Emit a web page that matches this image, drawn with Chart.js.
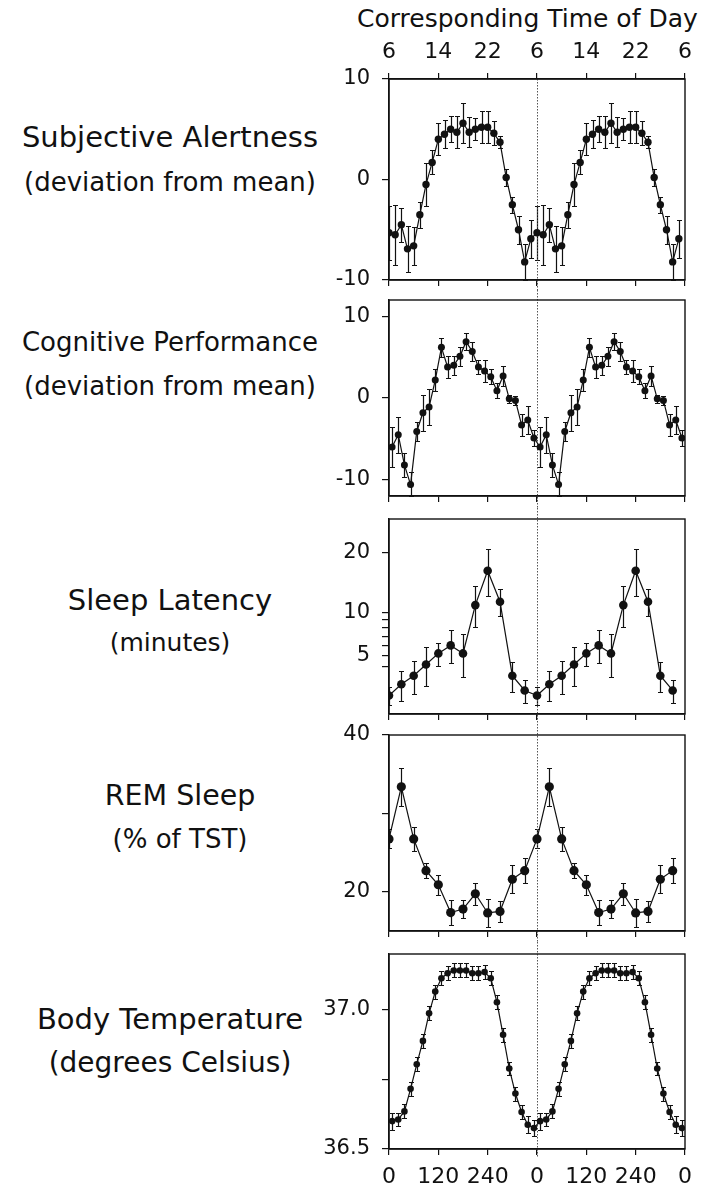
<!DOCTYPE html>
<html lang="en">
<head>
<meta charset="UTF-8">
<title>Circadian variation across the day</title>
<script src="https://cdn.jsdelivr.net/npm/chart.js"></script>
<style>
  body { margin: 0; background: #fff; }
  #page { position: relative; width: 709px; height: 1190px; overflow: hidden;
          font-family: "DejaVu Sans", sans-serif; color: #111; }
  #page canvas { position: absolute; left: 0; }
  .side { position: absolute; left: 0; width: 340px; text-align: center;
          line-height: 40px; white-space: nowrap; }
  #topTitle { position: absolute; left: 357px; top: 4px; font-size: 25px; line-height: 30px;
              white-space: nowrap; }
</style>
</head>
<body>
<div id="page">
  <div id="topTitle">Corresponding Time of Day</div>
  <div class="side" style="top:117px; font-size:29px">Subjective Alertness</div>
  <div class="side" style="top:162px; font-size:26px">(deviation from mean)</div>
  <div class="side" style="top:322px; font-size:26px">Cognitive Performance</div>
  <div class="side" style="top:366px; font-size:26px">(deviation from mean)</div>
  <div class="side" style="top:580px; font-size:29px">Sleep Latency</div>
  <div class="side" style="top:623px; font-size:25px">(minutes)</div>
  <div class="side" style="top:776px; left:10px; font-size:28.5px">REM Sleep</div>
  <div class="side" style="top:819px; left:10px; font-size:26px">(% of TST)</div>
  <div class="side" style="top:999px; font-size:29px">Body Temperature</div>
  <div class="side" style="top:1043px; font-size:28px">(degrees Celsius)</div>
  <canvas id="alert"></canvas>
  <canvas id="cog"></canvas>
  <canvas id="latency"></canvas>
  <canvas id="rem"></canvas>
  <canvas id="temp"></canvas>
</div>
<script>
// x positions (circadian phase, degrees) within one cycle; every panel is double plotted
const phase15 = [0, 15, 30, 45, 60, 75, 90, 105, 120, 135, 150, 165,
                 180, 195, 210, 225, 240, 255, 270, 285, 300, 315, 330, 345];
const phase15mid = [7.5, 22.5, 37.5, 52.5, 67.5, 82.5, 97.5, 112.5, 127.5, 142.5, 157.5, 172.5,
                    187.5, 202.5, 217.5, 232.5, 247.5, 262.5, 277.5, 292.5, 307.5, 322.5, 337.5, 352.5];
const phase30 = [0, 30, 60, 90, 120, 150, 180, 210, 240, 270, 300, 330];

const alertness = [-5.3, -5.5, -4.5, -6.9, -6.6, -3.5, -0.5, 1.7, 4.0, 4.5, 5.0, 4.7,
                   5.6, 4.7, 5.0, 5.2, 5.2, 4.6, 3.7, 0.2, -2.5, -5.0, -8.2, -5.9];
const alertnessErr = [2.7, 3.0, 1.7, 2.3, 1.9, 1.3, 2.1, 1.2, 1.6, 1.4, 1.3, 1.6,
                      2.0, 1.5, 1.1, 1.6, 1.6, 1.2, 0.6, 0.8, 0.8, 1.4, 1.8, 1.9];

const cognition = [-6.0, -4.5, -8.2, -10.6, -4.1, -1.8, -1.1, 2.2, 6.2, 3.8, 4.0, 5.1,
                   6.9, 5.7, 3.8, 3.3, 2.6, 0.9, 2.7, -0.1, -0.3, -3.3, -2.7, -4.9];
const cognitionErr = [2.4, 2.2, 1.5, 1.5, 1.2, 2.2, 2.2, 1.3, 1.2, 1.3, 1.2, 1.2,
                      1.0, 1.2, 0.9, 1.3, 0.9, 0.9, 1.2, 0.5, 0.5, 1.4, 1.7, 1.0];

const latency = [2.0, 2.7, 3.3, 4.2, 5.2, 6.0, 5.2, 11.0, 16.6, 11.5, 3.3, 2.3];
const latencyErr = [0.5, 1.0, 1.2, 1.6, 1.1, 1.7, 2.0, 2.9, 4.2, 2.0, 1.1, 0.7];

const remSleep = [26.75, 33.4, 26.75, 22.7, 20.9, 17.35, 17.8, 19.75, 17.3, 17.5, 21.6, 22.7];
const remSleepErr = [1.2, 2.4, 1.5, 1.0, 1.3, 1.6, 1.2, 1.4, 1.8, 1.3, 1.8, 1.6];

const bodyTemp = [36.600, 36.606, 36.635, 36.716, 36.804, 36.888, 36.987, 37.065, 37.113, 37.131, 37.141, 37.141,
                  37.141, 37.131, 37.131, 37.135, 37.113, 37.027, 36.910, 36.789, 36.699, 36.633, 36.587, 36.575];
const bodyTempErr = [0.030, 0.025, 0.025, 0.025, 0.025, 0.025, 0.025, 0.025, 0.025, 0.025, 0.025, 0.025,
                     0.025, 0.025, 0.025, 0.025, 0.025, 0.025, 0.025, 0.025, 0.025, 0.025, 0.030, 0.030];

// tick values / labels
const xTicks = [0, 120, 240, 360, 480, 600, 720];
const timeOfDayLabels = ['6', '14', '22', '6', '14', '22', '6'];
const degreeLabels = ['0', '120', '240', '0', '120', '240', '0'];
const devTicks = [-10, 0, 10];
const devLabels = ['-10', '0', '10'];
const latencyTicks = [4, 5, 6, 7, 8, 9, 10, 20];
const latencyLabels = ['', '5', '', '', '', '', '10', '20'];
const remTicks = [20, 30, 40];
const remLabels = ['20', '', '40'];
const tempTicks = [36.5, 36.75, 37.0];
const tempLabels = ['36.5', '', '37.0'];

const INK = '#111';
Chart.defaults.font.family = '"DejaVu Sans", sans-serif';
Chart.defaults.color = INK;

// square-root-like axis used for sleep latency
const LATENCY_EXP = 0.45;
class PowerScale extends Chart.LinearScale {
  _pw(v) { return Math.pow(Math.max(v, 0), LATENCY_EXP); }
  getPixelForValue(value) {
    if (value === null || isNaN(value)) return NaN;
    const a = this._pw(this.min), b = this._pw(this.max);
    return this.getPixelForDecimal((this._pw(value) - a) / (b - a));
  }
  getValueForPixel(pixel) {
    const a = this._pw(this.min), b = this._pw(this.max);
    return Math.pow(a + this.getDecimalForPixel(pixel) * (b - a), 1 / LATENCY_EXP);
  }
}
PowerScale.id = 'power';
PowerScale.defaults = Chart.LinearScale.defaults;
Chart.register(PowerScale);

function twoCycles(xs, ys) {
  const pts = [];
  [0, 360].forEach(shift => xs.forEach((x, i) => pts.push({ x: x + shift, y: ys[i] })));
  return pts;
}

const errorBars = {
  id: 'errorBars',
  beforeDatasetsDraw(chart) {
    const { ctx, chartArea: a } = chart;
    const ys = chart.scales.y;
    ctx.save();
    ctx.beginPath();
    ctx.rect(a.left, a.top - 2, a.right - a.left, a.bottom - a.top + 4);
    ctx.clip();
    ctx.strokeStyle = INK;
    ctx.lineWidth = 1.2;
    chart.data.datasets.forEach((ds, di) => {
      chart.getDatasetMeta(di).data.forEach((pt, i) => {
        const v = ds.data[i].y, e = ds.errors[i];
        const top = Math.round(ys.getPixelForValue(v + e)) + 0.5;
        const bot = Math.round(ys.getPixelForValue(Math.max(v - e, ys.min))) + 0.5;
        const x = Math.round(pt.x) + 0.5;
        ctx.beginPath();
        ctx.moveTo(x, top); ctx.lineTo(x, bot);
        ctx.moveTo(x - 2.5, top); ctx.lineTo(x + 2.5, top);
        ctx.moveTo(x - 2.5, bot); ctx.lineTo(x + 2.5, bot);
        ctx.stroke();
      });
    });
    ctx.restore();
  }
};

const frame = {
  id: 'frame',
  beforeDatasetsDraw(chart, args, opts) {
    const { ctx, chartArea: a } = chart;
    const x = Math.round(chart.scales.x.getPixelForValue(360)) + 0.5;
    ctx.save();
    ctx.strokeStyle = '#555';
    ctx.lineWidth = 1;
    ctx.setLineDash([1.5, 1.5]);
    ctx.beginPath();
    ctx.moveTo(x, a.top - opts.up);
    ctx.lineTo(x, a.bottom + opts.down);
    ctx.stroke();
    ctx.restore();
  },
  afterDraw(chart) {
    const { ctx, chartArea: a } = chart;
    ctx.save();
    ctx.strokeStyle = INK;
    ctx.lineWidth = 1.4;
    ctx.strokeRect(a.left, a.top, a.right - a.left, a.bottom - a.top);
    ctx.restore();
  }
};

function tickAxis(extra) {
  return Object.assign({
    grid: { drawOnChartArea: false, tickLength: 6, color: INK, lineWidth: 1.2 },
    border: { color: INK, width: 1.4 }
  }, extra);
}

function makePanel(id, p) {
  const canvas = document.getElementById(id);
  const height = p.padTop + (p.boxBottom - p.boxTop) + p.xAxisH + p.padBottom;
  canvas.width = 709;
  canvas.height = height;
  canvas.style.top = (p.boxTop - p.padTop) + 'px';

  const scales = {
    x: tickAxis({
      type: 'linear', position: 'bottom', min: 0, max: 720,
      afterBuildTicks: s => { s.ticks = xTicks.map(v => ({ value: v })); },
      afterFit: s => { s.height = p.xAxisH; },
      ticks: {
        display: !!p.xLabels, autoSkip: false, maxRotation: 0, padding: 9,
        font: { size: 22 }, color: INK,
        callback: (v, i) => (p.xLabels ? p.xLabels[i] : '')
      }
    }),
    y: tickAxis({
      type: p.yType || 'linear', position: 'left', min: p.yMin, max: p.yMax,
      afterBuildTicks: s => { s.ticks = p.yTicks.map(v => ({ value: v })); },
      afterFit: s => { s.width = 389; },
      grid: { drawOnChartArea: false, tickLength: 7, color: INK, lineWidth: 1.2 },
      ticks: {
        autoSkip: false, padding: 12, font: { size: 21 }, color: INK,
        callback: (v, i) => p.yLabels[i]
      }
    })
  };
  if (p.topAxis) {
    scales.x2 = tickAxis({
      type: 'linear', position: 'top', min: 0, max: 720,
      afterBuildTicks: s => { s.ticks = xTicks.map(v => ({ value: v })); },
      afterFit: s => { s.height = p.padTop; },
      ticks: {
        autoSkip: false, maxRotation: 0, padding: 8, font: { size: 22 }, color: INK,
        callback: (v, i) => timeOfDayLabels[i]
      }
    });
  }

  return new Chart(canvas, {
    type: 'line',
    data: {
      datasets: [{
        data: twoCycles(p.xs, p.ys),
        errors: p.errs.concat(p.errs),
        borderColor: INK,
        borderWidth: 1.2,
        pointRadius: p.r,
        pointBackgroundColor: INK,
        pointBorderColor: INK,
        pointBorderWidth: 0,
        tension: 0,
        fill: false
      }]
    },
    options: {
      responsive: false,
      animation: false,
      layout: { padding: { top: p.topAxis ? 0 : p.padTop, bottom: p.padBottom, left: 0, right: 24 } },
      plugins: {
        legend: { display: false },
        tooltip: { enabled: false },
        frame: { up: p.lineUp, down: p.lineDown }
      },
      scales
    },
    plugins: [errorBars, frame]
  });
}

makePanel('alert', {
  boxTop: 79, boxBottom: 280, padTop: 79, padBottom: 20, xAxisH: 10, topAxis: true,
  xs: phase15, ys: alertness, errs: alertnessErr, r: 3.7,
  yMin: -10, yMax: 10, yTicks: devTicks, yLabels: devLabels, lineUp: 0, lineDown: 10
});
makePanel('cog', {
  boxTop: 300, boxBottom: 496, padTop: 30, padBottom: 20, xAxisH: 10,
  xs: phase15mid, ys: cognition, errs: cognitionErr, r: 3.5,
  yMin: -12, yMax: 12, yTicks: devTicks, yLabels: devLabels, lineUp: 10, lineDown: 12
});
makePanel('latency', {
  boxTop: 519, boxBottom: 714, padTop: 30, padBottom: 20, xAxisH: 10,
  xs: phase30, ys: latency, errs: latencyErr, r: 4.3, yType: 'power',
  yMin: 1.1, yMax: 27.5, yTicks: latencyTicks, yLabels: latencyLabels, lineUp: 11, lineDown: 10
});
makePanel('rem', {
  boxTop: 735, boxBottom: 931, padTop: 30, padBottom: 20, xAxisH: 10,
  xs: phase30, ys: remSleep, errs: remSleepErr, r: 4.6,
  yMin: 15, yMax: 40, yTicks: remTicks, yLabels: remLabels, lineUp: 11, lineDown: 11
});
makePanel('temp', {
  boxTop: 954, boxBottom: 1149, padTop: 30, padBottom: 0, xAxisH: 41, xLabels: degreeLabels,
  xs: phase15mid, ys: bodyTemp, errs: bodyTempErr, r: 3.3,
  yMin: 36.5, yMax: 37.2, yTicks: tempTicks, yLabels: tempLabels, lineUp: 12, lineDown: 8
});
</script>
</body>
</html>
